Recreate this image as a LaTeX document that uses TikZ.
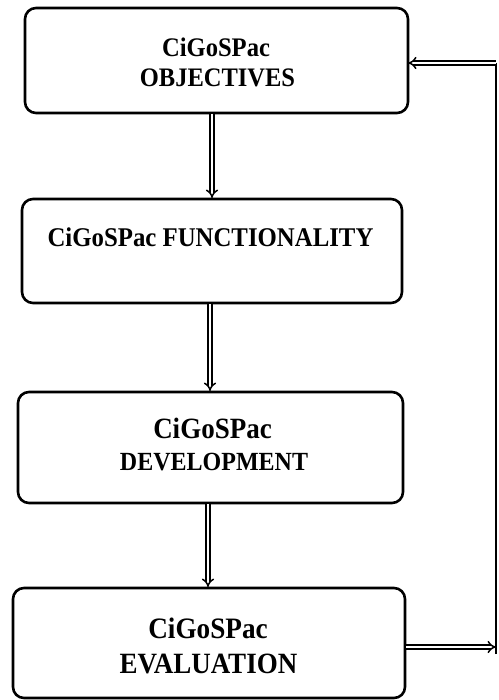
\documentclass[tikz,border=0pt]{standalone}
\usepackage{fontspec}
\setmainfont{Liberation Serif}
\usetikzlibrary{arrows.meta}
\newcommand{\tallfont}[2]{\scalebox{1}[1.09]{\fontsize{#1}{30}\selectfont #2}}
\begin{document}
\begin{tikzpicture}[x=1pt,y=-1pt,
  box/.style={draw, line width=2.6pt, rounded corners=11pt},
  lbl/.style={anchor=base, inner sep=0pt, font=\bfseries},
  dbl/.style={double, line width=1.5pt, double distance=2.6pt, -{Implies}},
  single/.style={line width=2pt}]
\useasboundingbox (0,0) rectangle (498,700);
% boxes
\draw[box] (25,8) rectangle (408,113);
\node[lbl] (t1a) at (216,57) {\tallfont{24.6}{CiGoSPac}};
\node[lbl] (t1b) at (217.5,87) {\tallfont{24.5}{OBJECTIVES}};
\draw[box] (22,199) rectangle (402,303);
\node[lbl] (t2) at (210.5,247) {\tallfont{24.8}{CiGoSPac FUNCTIONALITY}};
\draw[box] (18,392) rectangle (403,503);
\node[lbl] (t3a) at (212.5,438) {\tallfont{27}{CiGoSPac}};
\node[lbl] (t3b) at (214,470) {\tallfont{24}{DEVELOPMENT}};
\draw[box] (13,588) rectangle (405,698);
\node[lbl] (t4a) at (208,638) {\tallfont{27.2}{CiGoSPac}};
\node[lbl] (t4b) at (208.5,673) {\tallfont{27}{EVALUATION}};
% anchor coordinates
\coordinate (b1b) at (212,114);
\coordinate (b2t) at (212,198);
\coordinate (b2b) at (210,304);
\coordinate (b3t) at (210,391);
\coordinate (b3b) at (208,504);
\coordinate (b4t) at (208,587);
\coordinate (b4r) at (406,647);
\coordinate (rb) at (496,647);
\coordinate (rbot) at (496,654);
\coordinate (rt) at (496,63);
\coordinate (b1r) at (408,63);
% connectors
\draw[dbl] (b1b) -- (b2t);
\draw[dbl] (b2b) -- (b3t);
\draw[dbl] (b3b) -- (b4t);
\draw[dbl] (b4r) -- (rb);
\draw[single] (rbot) -- (rt);
\draw[dbl] (rt) -- (b1r);
\end{tikzpicture}
\end{document}
